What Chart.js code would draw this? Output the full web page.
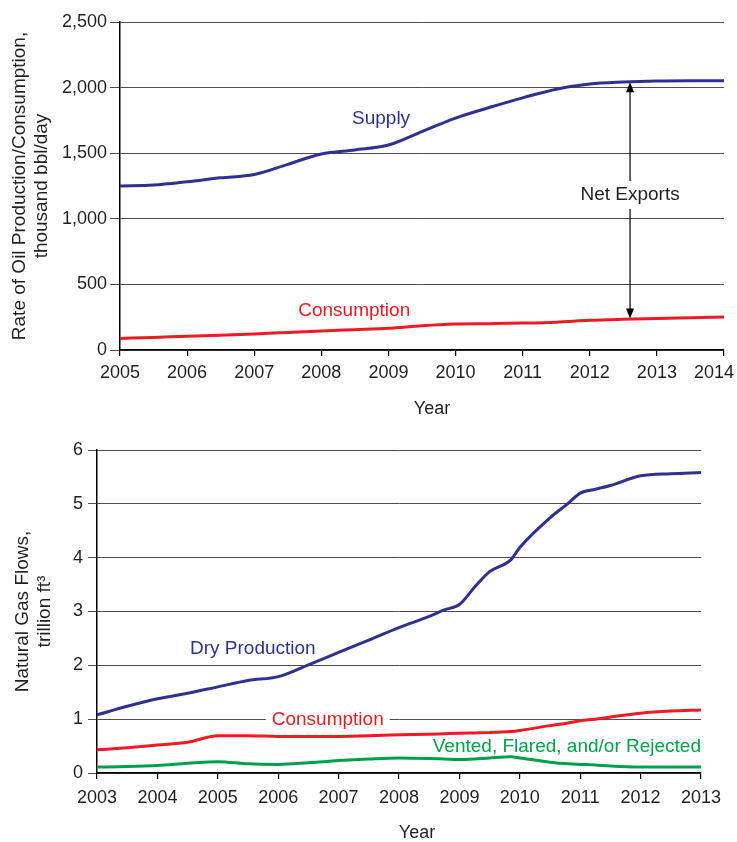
<!DOCTYPE html>
<html>
<head>
<meta charset="utf-8">
<script src="https://cdn.jsdelivr.net/npm/chart.js@4"></script>
<style>
html, body { margin: 0; padding: 0; background: #fff; }
#wrap { position: relative; width: 737px; height: 842px; overflow: hidden; }
#oil { position: absolute; left: 0; top: 0; }
#gas { position: absolute; left: 0; top: 421px; }
</style>
</head>
<body>
<div id="wrap">
<canvas id="oil" width="737" height="421"></canvas>
<canvas id="gas" width="737" height="421"></canvas>
</div>
<script>
// Top chart: oil, thousand bbl/day
var oilYears = [2005, 2005.5, 2006, 2006.5, 2007, 2007.5, 2008, 2008.5, 2009, 2009.5, 2010, 2010.5, 2011, 2011.5, 2012, 2012.5, 2013, 2013.5, 2014];
var oilSupply = [1250, 1257, 1282, 1312, 1338, 1415, 1494, 1525, 1562, 1665, 1768, 1848, 1922, 1988, 2027, 2042, 2050, 2052, 2052];
var oilConsumption = [88, 96, 105, 113, 122, 134, 145, 155, 165, 185, 198, 201, 205, 212, 226, 234, 240, 246, 252];
var oilYTicks = [0, 500, 1000, 1500, 2000, 2500];

// Bottom chart: natural gas, trillion ft3
var gasYears = [2003, 2003.5, 2004, 2004.5, 2005, 2005.5, 2006, 2006.5, 2007, 2007.5, 2008, 2008.5, 2008.75, 2009, 2009.25, 2009.5, 2009.85, 2010, 2010.5, 2010.8, 2011, 2011.25, 2011.5, 2012, 2012.5, 2013];
var gasDry = [1.08, 1.24, 1.38, 1.48, 1.60, 1.72, 1.79, 2.01, 2.24, 2.47, 2.70, 2.91, 3.03, 3.13, 3.45, 3.74, 3.96, 4.19, 4.74, 5.01, 5.20, 5.27, 5.34, 5.52, 5.56, 5.58];
var gasConsumption = [0.43, 0.47, 0.52, 0.57, 0.69, 0.69, 0.68, 0.68, 0.68, 0.69, 0.71, 0.72, 0.73, 0.74, 0.745, 0.75, 0.77, 0.79, 0.88, 0.93, 0.97, 1.00, 1.04, 1.11, 1.15, 1.17];
var gasVented = [0.11, 0.12, 0.14, 0.18, 0.21, 0.17, 0.16, 0.19, 0.23, 0.26, 0.28, 0.27, 0.26, 0.25, 0.26, 0.28, 0.30, 0.28, 0.20, 0.17, 0.16, 0.15, 0.13, 0.11, 0.11, 0.11];

var BLUE = '#2e3192';
var RED = '#ed1c24';
var GREEN = '#00a14b';
var FONT = '"Liberation Sans", Arial, Helvetica, sans-serif';

function pairs(xs, ys) {
	return xs.map(function (x, i) { return {x: x, y: ys[i]}; });
}

function lineSet(label, xs, ys, color) {
	return {
		label: label,
		data: pairs(xs, ys),
		borderColor: color,
		borderWidth: 3,
		pointRadius: 0,
		cubicInterpolationMode: 'monotone',
		fill: false
	};
}

// Free text placed in data coordinates, plus the "Year" titles
var textPlugin = {
	id: 'notes',
	afterDraw: function (chart) {
		var o = chart.options.plugins.notes;
		var ctx = chart.ctx;
		var xs = chart.scales.x, ys = chart.scales.y;
		ctx.save();
		ctx.font = '19px ' + FONT;
		ctx.textBaseline = 'middle';

		if (o.arrow) {
			var ax = xs.getPixelForValue(o.arrow.x);
			var top = ys.getPixelForValue(o.arrow.from);
			var bot = ys.getPixelForValue(o.arrow.to);
			var ly = ys.getPixelForValue(o.arrow.labelY);
			ctx.strokeStyle = '#000';
			ctx.fillStyle = '#000';
			ctx.lineWidth = 1.2;
			ctx.beginPath();
			ctx.moveTo(ax, top + 8);
			ctx.lineTo(ax, bot - 8);
			ctx.stroke();
			ctx.beginPath();
			ctx.moveTo(ax, top); ctx.lineTo(ax - 4, top + 10); ctx.lineTo(ax + 4, top + 10); ctx.closePath();
			ctx.fill();
			ctx.beginPath();
			ctx.moveTo(ax, bot); ctx.lineTo(ax - 4, bot - 10); ctx.lineTo(ax + 4, bot - 10); ctx.closePath();
			ctx.fill();
			var w = ctx.measureText(o.arrow.label).width;
			ctx.fillStyle = '#fff';
			ctx.fillRect(ax - w / 2 - 4, ly - 14, w + 8, 28);
			ctx.fillStyle = '#231f20';
			ctx.textAlign = 'center';
			ctx.fillText(o.arrow.label, ax, ly);
		}

		o.items.forEach(function (n) {
			var px = xs.getPixelForValue(n.x);
			var py = ys.getPixelForValue(n.y);
			ctx.textAlign = n.align || 'center';
			if (n.knockout) {
				var w = ctx.measureText(n.text).width;
				ctx.fillStyle = '#fff';
				ctx.fillRect(px - w / 2 - 6, py - 3, w + 12, 6);
			}
			ctx.fillStyle = n.color;
			ctx.fillText(n.text, px, py);
		});

		ctx.font = '18px ' + FONT;
		ctx.fillStyle = '#231f20';
		ctx.textAlign = 'center';
		var cx = (chart.chartArea.left + chart.chartArea.right) / 2 + o.yearDx;
		ctx.fillText('Year', cx, o.yearY);
		ctx.restore();
	}
};

function makeOptions(cfg) {
	return {
		responsive: false,
		animation: false,
		layout: {padding: {left: 0, right: cfg.padRight, top: cfg.padTop, bottom: 0}},
		plugins: {
			legend: {display: false},
			tooltip: {enabled: false},
			notes: cfg.notes
		},
		scales: {
			x: {
				type: 'linear',
				min: cfg.xMin,
				max: cfg.xMax,
				afterFit: function (s) { s.height = cfg.xHeight; s.paddingLeft = 0; s.paddingRight = 0; },
				afterBuildTicks: function (s) {
					var t = [];
					for (var v = cfg.xMin; v <= cfg.xMax; v++) t.push({value: v});
					s.ticks = t;
				},
				ticks: {
					font: {family: FONT, size: 18},
					color: '#231f20',
					padding: cfg.xTickPad,
					maxRotation: 0,
					autoSkip: false,
					callback: cfg.xLabel
				},
				grid: {drawOnChartArea: false, drawTicks: true, tickLength: 6, color: '#000', lineWidth: 1.2},
				border: {display: true, color: '#000', width: 1.5}
			},
			y: {
				min: cfg.yMin,
				max: cfg.yMax,
				afterFit: function (s) { s.width = cfg.yWidth; s.paddingTop = 0; s.paddingBottom = 0; },
				afterBuildTicks: function (s) {
					s.ticks = cfg.yTicks.map(function (v) { return {value: v}; });
				},
				ticks: {
					font: {family: FONT, size: 18},
					color: '#231f20',
					padding: cfg.yTickPad,
					callback: function (v) { return v.toLocaleString('en-US'); }
				},
				grid: {color: '#4d4d4d', lineWidth: 1, tickLength: cfg.yTickLen},
				border: {display: true, color: '#000', width: 1.5},
				title: {
					display: true,
					text: cfg.yTitle,
					font: {family: FONT, size: 19},
					color: '#231f20',
					padding: {top: cfg.yTitlePad, bottom: 0}
				}
			}
		}
	};
}

new Chart(document.getElementById('oil'), {
	type: 'line',
	data: {
		datasets: [
			lineSet('Supply', oilYears, oilSupply, BLUE),
			lineSet('Consumption', oilYears, oilConsumption, RED)
		]
	},
	options: makeOptions({
		padRight: 13, padTop: 22, xHeight: 71, yWidth: 120,
		xMin: 2005, xMax: 2014, yMin: 0, yMax: 2500, yTicks: oilYTicks,
		xTickPad: 6, yTickPad: 3, yTickLen: 10,
		xLabel: function (v) { return v === 2014 ? '2014\u2007\u2007' : String(v); },
		yTitle: ['Rate of Oil Production/Consumption,', 'thousand bbl/day'],
		yTitlePad: 8,
		notes: {
			yearDx: 10, yearY: 409,
			arrow: {x: 2012.6, from: 2040, to: 240, labelY: 1181, label: 'Net Exports'},
			items: [
				{text: 'Supply', x: 2008.89, y: 1760, color: BLUE},
				{text: 'Consumption', x: 2008.49, y: 297, color: RED}
			]
		}
	}),
	plugins: [textPlugin]
});

new Chart(document.getElementById('gas'), {
	type: 'line',
	data: {
		datasets: [
			lineSet('Dry Production', gasYears, gasDry, BLUE),
			lineSet('Consumption', gasYears, gasConsumption, RED),
			lineSet('Vented, Flared, and/or Rejected', gasYears, gasVented, GREEN)
		]
	},
	options: makeOptions({
		padRight: 36, padTop: 29, xHeight: 69, yWidth: 97,
		xMin: 2003, xMax: 2013, yMin: 0, yMax: 6, yTicks: [0, 1, 2, 3, 4, 5, 6],
		xTickPad: 8, yTickPad: 5, yTickLen: 9,
		xLabel: function (v) { return String(v); },
		yTitle: ['Natural Gas Flows,', 'trillion ft\u00b3'],
		yTitlePad: 11,
		notes: {
			yearDx: 18, yearY: 412,
			items: [
				{text: 'Dry Production', x: 2005.58, y: 2.30, color: BLUE},
				{text: 'Consumption', x: 2006.82, y: 0.99, color: RED, knockout: true},
				{text: 'Vented, Flared, and/or Rejected', x: 2013, y: 0.483, color: GREEN, align: 'right'}
			]
		}
	}),
	plugins: [textPlugin]
});
</script>
</body>
</html>
